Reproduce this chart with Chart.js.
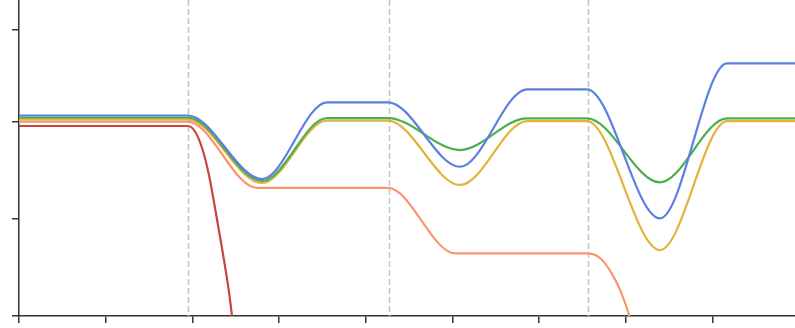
<!DOCTYPE html>
<html>
<head>
<meta charset="utf-8">
<script src="https://cdn.jsdelivr.net/npm/chart.js@4/dist/chart.umd.min.js"></script>
<style>
  html, body { margin: 0; padding: 0; background: #ffffff; }
  #wrap { width: 795px; height: 328px; }
</style>
</head>
<body>
<div id="wrap"><canvas id="c" width="795" height="328"></canvas></div>
<script>
// ---- data ----
const xTicks = [0, 1, 2, 3, 4, 5, 6, 7, 8];
const yTicks = [0, 1, 2, 2.95];
const markerX = [1.949, 4.262, 6.559];

// shared knots for the three "recovering" series
const waveX   = [0, 1.949, 2.803, 3.552, 4.256, 5.087, 5.859, 6.551, 7.393, 8.166, 8.95];
const blueY   = [2.067, 2.067, 1.412, 2.203, 2.203, 1.539, 2.337, 2.337, 1.007, 2.605, 2.605];
const greenY  = [2.046, 2.046, 1.392, 2.041, 2.041, 1.711, 2.038, 2.038, 1.378, 2.038, 2.038];
const yellowY = [2.026, 2.026, 1.371, 2.015, 2.015, 1.351, 2.010, 2.010, 0.680, 2.010, 2.010];

const orangeX = [0, 1.949, 2.745, 4.256, 5.029, 6.551, 6.701, 6.836, 6.943, 7.039, 7.116];
const orangeY = [2.005, 2.005, 1.320, 1.320, 0.646, 0.646, 0.598, 0.440, 0.247, 0, -0.299];

const redX = [0, 1.949, 2.030, 2.111, 2.191, 2.261, 2.341, 2.422, 2.457, 2.526];
const redY = [1.959, 1.959, 1.902, 1.732, 1.454, 1.113, 0.701, 0.247, 0, -0.454];

const xMax = 8.95;
const yMax = 3.258;

function pts(xs, ys) { return xs.map((x, i) => ({ x: x, y: ys[i] })); }

const series = [
  { label: 'A', xs: waveX,   ys: blueY,   color: '#5b7fe3' },
  { label: 'B', xs: waveX,   ys: greenY,  color: '#4cae4c' },
  { label: 'C', xs: waveX,   ys: yellowY, color: '#e2b43c' },
  { label: 'D', xs: orangeX, ys: orangeY, color: '#fb9470' },
  { label: 'E', xs: redX,    ys: redY,    color: '#c8443c' }
];

const markerPlugin = {
  id: 'markers',
  beforeDatasetsDraw(chart) {
    const ctx = chart.ctx, xs = chart.scales.x, area = chart.chartArea;
    ctx.save();
    ctx.strokeStyle = '#c4c4c4';
    ctx.lineWidth = 1.5;
    ctx.setLineDash([6, 3]);
    markerX.forEach(v => {
      const px = Math.round(xs.getPixelForValue(v)) + 0.5;
      ctx.beginPath();
      ctx.moveTo(px, area.top);
      ctx.lineTo(px, area.bottom);
      ctx.stroke();
    });
    ctx.restore();
  }
};

const axisColor = '#333333';

new Chart(document.getElementById('c'), {
  type: 'line',
  data: {
    datasets: series.map(s => ({
      label: s.label,
      data: pts(s.xs, s.ys),
      borderColor: s.color,
      backgroundColor: s.color,
      borderWidth: 2.2,
      pointRadius: 0,
      fill: false,
      cubicInterpolationMode: 'monotone',
      clip: 0
    }))
  },
  options: {
    responsive: false,
    animation: false,
    devicePixelRatio: 1,
    layout: { padding: { left: 12, right: 0, top: 0, bottom: 5 } },
    plugins: { legend: { display: false }, tooltip: { enabled: false } },
    scales: {
      x: {
        type: 'linear',
        min: 0,
        max: xMax,
        afterBuildTicks: (scale) => { scale.ticks = xTicks.map(v => ({ value: v })); },
        ticks: { display: false },
        grid: { drawOnChartArea: false, drawTicks: true, tickLength: 7, color: axisColor, lineWidth: 1.5 },
        border: { display: true, color: axisColor, width: 1.5 }
      },
      y: {
        type: 'linear',
        min: 0,
        max: yMax,
        afterBuildTicks: (scale) => { scale.ticks = yTicks.map(v => ({ value: v })); },
        ticks: { display: false },
        grid: { drawOnChartArea: false, drawTicks: true, tickLength: 7, color: axisColor, lineWidth: 1.5 },
        border: { display: true, color: axisColor, width: 1.5 }
      }
    }
  },
  plugins: [markerPlugin]
});
</script>
</body>
</html>
